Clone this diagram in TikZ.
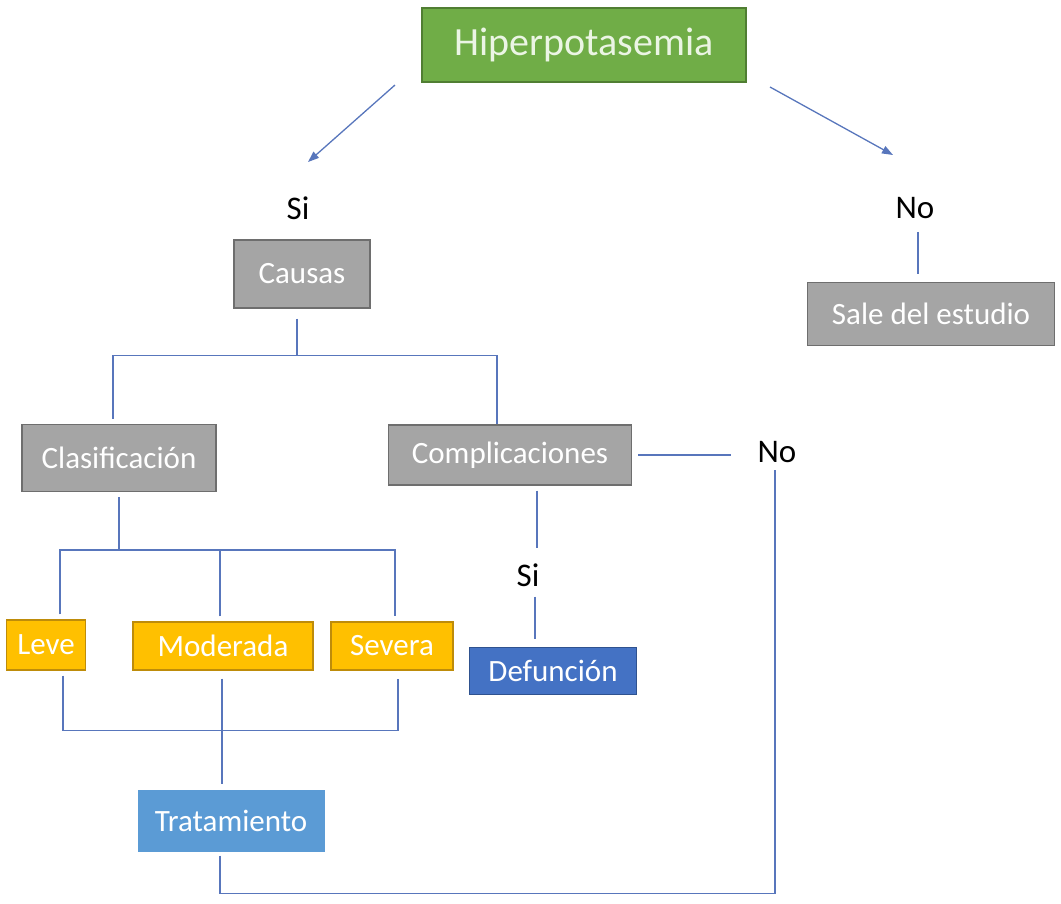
\documentclass[tikz,border=0pt]{standalone}
\usepackage{fontspec}
\setmainfont{Carlito}
\usetikzlibrary{arrows.meta}
\definecolor{lnc}{RGB}{88,118,188}
\definecolor{grn}{RGB}{112,173,71}
\definecolor{grnd}{RGB}{80,126,50}
\definecolor{gry}{RGB}{165,165,165}
\definecolor{gryd}{RGB}{110,110,110}
\definecolor{org}{RGB}{255,192,0}
\definecolor{orgd}{RGB}{190,140,10}
\definecolor{dblu}{RGB}{68,114,196}
\definecolor{dblud}{RGB}{47,82,143}
\definecolor{lblu}{RGB}{91,155,213}
\tikzset{
  box/.style={rectangle, inner sep=0pt, text=white, font=\fontsize{31}{34}\selectfont, line width=1.2pt},
  lbl/.style={inner sep=3pt, text=black, font=\fontsize{33}{36}\selectfont},
  ln/.style={draw=lnc, line width=1.3pt},
  arr/.style={draw=lnc, line width=1.3pt, -{Triangle[length=11pt,width=8pt]}},
}
\begin{document}
\begin{tikzpicture}[x=1pt,y=-1pt]
\useasboundingbox (0,0) rectangle (1061,903);
% nodes
\node[box, fill=grn, draw=grnd, minimum width=324, minimum height=74, font=\fontsize{40}{44}\selectfont, text={rgb,255:red,235;green,245;blue,228}] (hip) at (584,45) {Hiperpotasemia};
\node[lbl] (si1) at (298,208) {Si};
\node[lbl] (no1) at (915,208) {No};
\node[box, fill=gry, draw=gryd, minimum width=136, minimum height=68] (causas) at (302,274) {Causas};
\node[box, fill=gry, draw=gryd, minimum width=247, minimum height=63] (sale) at (931,314) {Sale del estudio};
\node[box, fill=gry, draw=gryd, minimum width=194, minimum height=67] (clas) at (119,458) {Clasificación};
\node[box, fill=gry, draw=gryd, minimum width=243, minimum height=60] (comp) at (510,455) {Complicaciones};
\node[lbl] (no2) at (777,452) {No};
\node[box, fill=org, draw=orgd, minimum width=79, minimum height=50] (leve) at (46,645) {Leve};
\node[box, fill=org, draw=orgd, minimum width=180, minimum height=48] (mod) at (223,646) {Moderada};
\node[box, fill=org, draw=orgd, minimum width=122, minimum height=48] (sev) at (392,646) {Severa};
\node[lbl] (si2) at (528,575) {Si};
\node[box, fill=dblu, draw=dblud, minimum width=167, minimum height=47] (def) at (553,671) {Defunción};
\node[box, fill=lblu, draw=none, minimum width=187, minimum height=62] (trat) at (231,821) {Tratamiento};
% arrow end points
\coordinate (a1s) at (395,85);
\coordinate (a1e) at (308,162);
\coordinate (a2s) at (770,87);
\coordinate (a2e) at (893,155);
\draw[arr] (a1s) -- (a1e);
\draw[arr] (a2s) -- (a2e);
% right branch
\draw[ln] ([xshift=3pt,yshift=-10pt]no1.south) -- ([xshift=-13pt,yshift=8pt]sale.north);
% causas tree
\draw[ln] ([xshift=-5pt,yshift=-10pt]causas.south) -- ++(0,37) coordinate (jc);
\draw[ln] ([xshift=-6pt,yshift=5pt]clas.north) |- (jc) -| ([xshift=-13pt,yshift=0pt]comp.north);
% clasificacion tree
\draw[ln] ([yshift=-5pt]clas.south) -- ++(0,53) coordinate (jl);
\draw[ln] ([xshift=14pt,yshift=5pt]leve.north) |- (jl) -| ([xshift=3pt,yshift=5pt]sev.north);
\draw[ln] ([xshift=-3pt,yshift=5pt]mod.north) -- ([xshift=-3pt]mod.north |- jl);
% lower join
\coordinate (jb) at ([xshift=-1pt,yshift=-60pt]mod.south);
\draw[ln] ([xshift=17pt,yshift=-5pt]leve.south) |- (jb) -| ([xshift=6pt,yshift=-8pt]sev.south);
\draw[ln] ([xshift=-1pt,yshift=-8pt]mod.south) -- (jb) -- ([xshift=-9pt,yshift=5pt]trat.north);
% complicaciones
\draw[ln] ([xshift=6pt]comp.east) -- ([xshift=-23pt]no2.west |- comp.east);
\draw[ln] ([xshift=27pt,yshift=-5pt]comp.south) -- ([xshift=9pt,yshift=12pt]si2.north);
\draw[ln] ([xshift=7pt,yshift=-7pt]si2.south) -- ([xshift=-18pt,yshift=8pt]def.north);
% return path
\draw[ln] ([xshift=-11pt,yshift=-3pt]trat.south) -- ++(0,38) -| ([xshift=-2pt,yshift=-4pt]no2.south);
\end{tikzpicture}
\end{document}
